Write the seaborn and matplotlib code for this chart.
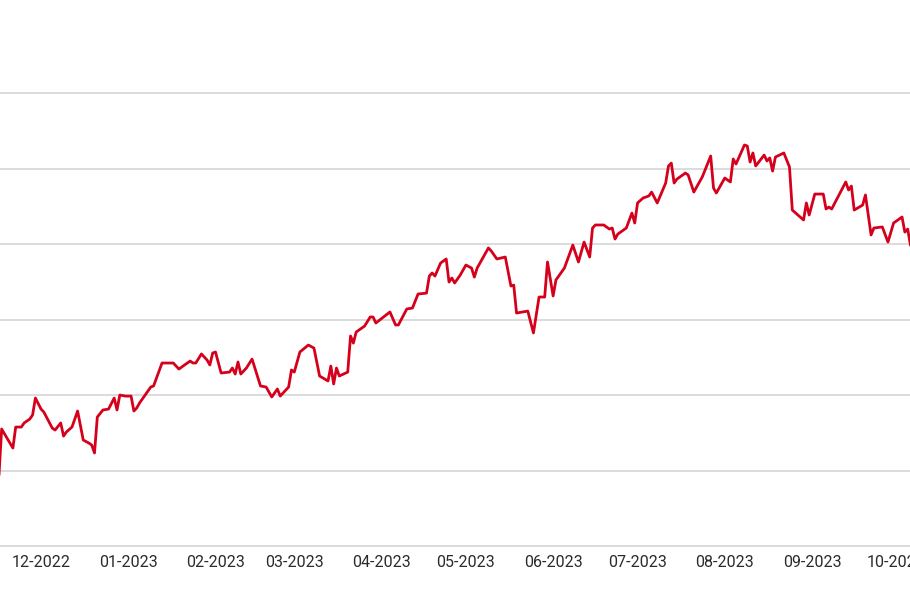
import matplotlib
matplotlib.use("Agg")
import matplotlib.pyplot as plt
import matplotlib.dates as mdates
import seaborn as sns
import pandas as pd

# Serie: dias contados a partir de start_date e nível do índice
start_date = "2022-11-16"
dias = [0, 1, 5, 6, 8, 9, 11, 12, 13, 15, 16, 19, 20, 22, 23, 24, 26, 28, 30, 32,
        33, 34, 35, 37, 39, 41, 42, 43, 45, 47, 48, 49, 50, 52, 54, 55, 58, 62, 64, 66,
        68, 69, 70, 72, 74, 75, 76, 77, 79, 82, 83, 84, 85, 86, 88, 90, 93, 95, 97, 99,
        100, 103, 104, 105, 107, 110, 112, 114, 117, 118, 119, 120, 121, 124, 125, 126, 127, 130, 132, 133,
        134, 139, 141, 142, 145, 147, 149, 152, 153, 154, 155, 157, 159, 160, 161, 162, 164, 166, 168, 169,
        170, 174, 175, 177, 180, 182, 183, 184, 188, 190, 192, 194, 195, 197, 198, 201, 204, 206, 208, 210,
        211, 212, 215, 217, 218, 219, 220, 223, 225, 226, 227, 229, 231, 232, 234, 237, 238, 239, 240, 241,
        244, 245, 247, 250, 253, 254, 255, 258, 260, 261, 262, 265, 266, 267, 268, 269, 272, 273, 274, 275,
        276, 279, 281, 282, 286, 287, 288, 290, 293, 294, 295, 296, 301, 302, 303, 304, 307, 308, 310, 311,
        314, 316, 318, 321, 322, 323, 324, 325]
valores = [94.50, 97.75, 96.49, 97.88, 97.88, 98.15, 98.41, 98.68, 99.80, 99.07,
           98.87, 97.81, 97.68, 98.15, 97.28, 97.55, 97.88, 98.94, 97.02, 96.82,
           96.69, 96.16, 98.54, 99.01, 99.07, 99.80, 99.01, 100.00, 99.93, 99.93,
           98.94, 99.14, 99.47, 100.00, 100.53, 100.60, 102.12, 102.12, 101.72, 101.99,
           102.25, 102.12, 102.12, 102.72, 102.32, 101.99, 102.78, 102.85, 101.46, 101.52,
           101.79, 101.39, 102.19, 101.39, 101.79, 102.38, 100.60, 100.53, 99.87, 100.40,
           99.93, 100.53, 101.66, 101.52, 102.85, 103.31, 103.11, 101.26, 100.93, 101.92,
           100.73, 101.79, 101.26, 101.52, 103.91, 103.44, 104.17, 104.57, 105.17, 105.17,
           104.77, 105.50, 104.64, 104.64, 105.70, 105.76, 106.69, 106.75, 107.88, 108.08,
           107.88, 108.74, 109.01, 107.48, 107.75, 107.42, 107.95, 108.61, 108.41, 107.81,
           108.41, 109.74, 109.54, 109.01, 109.14, 107.22, 107.28, 105.43, 105.56, 104.11,
           106.49, 106.49, 108.81, 106.56, 107.62, 108.41, 109.93, 108.81, 110.13, 109.14,
           111.06, 111.26, 111.26, 110.99, 111.06, 110.33, 110.66, 111.06, 112.05, 111.39,
           112.72, 113.05, 113.18, 113.44, 112.72, 114.04, 115.17, 115.36, 114.04, 114.30,
           114.70, 114.57, 113.44, 114.44, 115.83, 113.71, 113.38, 114.37, 114.11, 115.63,
           115.30, 116.56, 116.49, 115.43, 116.03, 115.17, 115.89, 115.50, 115.70, 114.83,
           115.76, 116.03, 115.10, 112.25, 111.59, 112.72, 111.92, 113.31, 113.31, 112.32,
           112.45, 112.32, 114.11, 113.58, 113.84, 112.25, 112.58, 113.25, 110.60, 111.06,
           111.13, 110.13, 111.39, 111.79, 110.79, 110.99, 109.93, 109.60]

niveis_grade = [90, 95, 100, 105, 110, 115, 120]
meses = pd.date_range("2022-12-01", "2023-10-01", freq="MS")

df = pd.DataFrame({
    "data": pd.to_datetime(start_date) + pd.to_timedelta(dias, unit="D"),
    "valor": valores,
})

sns.set_theme(style="whitegrid")
plt.rcParams["font.family"] = ["Roboto", "DejaVu Sans"]

fig = plt.figure(figsize=(9.1, 5.96), dpi=100)
ax = fig.add_axes([0, 48 / 596, 1, 548 / 596])

sns.lineplot(data=df, x="data", y="valor", ax=ax, color="#d5001c", linewidth=2.0)

ax.set_xlim(pd.Timestamp("2022-11-16 10:00"), pd.Timestamp("2023-10-05 20:00"))
ax.set_ylim(89.87, 126.16)
ax.set_yticks(niveis_grade)
ax.set_yticklabels([])
ax.set_xticks(meses)
ax.xaxis.set_major_formatter(mdates.DateFormatter("%m-%Y"))
ax.tick_params(axis="x", length=0, pad=5, labelsize=11.5, labelcolor="#2b2b2b")
ax.tick_params(axis="y", length=0)
ax.grid(axis="x", visible=False)
ax.grid(axis="y", color="#d9d9d9", linewidth=1.3)
ax.set_xlabel("")
ax.set_ylabel("")
for s in ax.spines.values():
    s.set_visible(False)
ax.set_facecolor("white")

fig.savefig("out.png", dpi=100)
